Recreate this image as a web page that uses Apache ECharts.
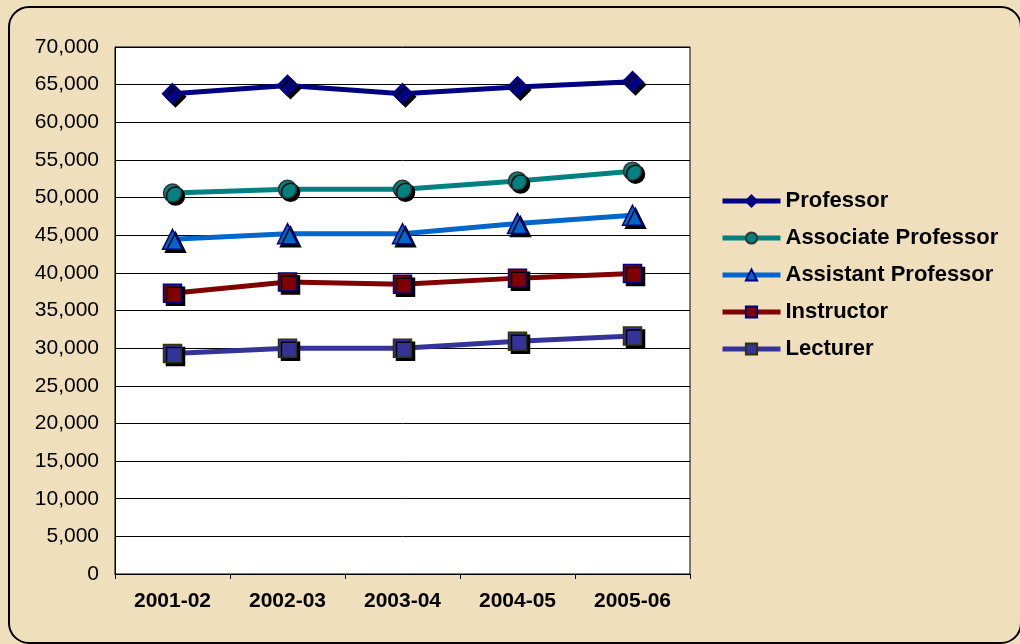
<!DOCTYPE html>
<html>
<head>
<meta charset="utf-8">
<script src="https://cdn.jsdelivr.net/npm/echarts@6/dist/echarts.min.js"></script>
<style>
html,body{margin:0;padding:0;background:#F0DFBC;}
#c{width:1020px;height:644px;}
</style>
</head>
<body>
<div id="c"></div>
<script>
const years = ['2001-02', '2002-03', '2003-04', '2004-05', '2005-06'];
const professor = [63800, 64900, 63800, 64700, 65400];
const associateProfessor = [50600, 51100, 51100, 52200, 53500];
const assistantProfessor = [44450, 45200, 45200, 46550, 47650];
const instructor = [37300, 38800, 38500, 39300, 39900];
const lecturer = [29300, 30000, 30000, 30900, 31600];
const seriesNames = ['Professor', 'Associate Professor', 'Assistant Professor', 'Instructor', 'Lecturer'];

const FONT = "'Liberation Sans', Arial, sans-serif";
const chart = echarts.init(document.getElementById('c'), null, {renderer: 'canvas'});

function mk(name, data, lineColor, fill, border, symbol, size) {
  return {
    name: name,
    type: 'line',
    data: data,
    symbol: symbol,
    symbolSize: size,
    showAllSymbol: true,
    lineStyle: {color: lineColor, width: 5},
    itemStyle: {
      color: fill, borderColor: border, borderWidth: 1.5,
      shadowColor: '#000', shadowBlur: 0, shadowOffsetX: 3, shadowOffsetY: 3
    },
    emphasis: {disabled: true},
    z: 3
  };
}

const option = {
  backgroundColor: '#F0DFBC',
  animation: false,
  graphic: [
    {type: 'rect', shape: {x: 9, y: 7, width: 1012, height: 636, r: 20},
     style: {fill: null, stroke: '#000', lineWidth: 2}, z: 100, silent: true}
  ],
  grid: {left: 115, right: 330, top: 47, bottom: 70, show: true,
         backgroundColor: '#fff', borderColor: '#000', borderWidth: 1},
  legend: {
    orient: 'vertical', left: 720, top: 190, padding: 0,
    itemWidth: 58, itemHeight: 14, itemGap: 15,
    data: seriesNames,
    lineStyle: {width: 5},
    itemStyle: {shadowColor: 'rgba(0,0,0,0)', shadowOffsetX: 0, shadowOffsetY: 0, shadowBlur: 0},
    textStyle: {fontFamily: FONT, fontSize: 22, fontWeight: 'bold', color: '#000', lineHeight: 21}
  },
  xAxis: {
    type: 'category', data: years, boundaryGap: true,
    axisLine: {lineStyle: {color: '#000', width: 1}},
    axisTick: {show: true, length: 5, inside: false, lineStyle: {color: '#000'}},
    axisLabel: {fontFamily: FONT, fontSize: 21, fontWeight: 'bold', color: '#000', margin: 17},
    splitLine: {show: false}
  },
  yAxis: {
    type: 'value', min: 0, max: 70000, interval: 5000,
    axisLine: {show: true, lineStyle: {color: '#000', width: 1}},
    axisTick: {show: false},
    axisLabel: {fontFamily: FONT, fontSize: 21, color: '#000', margin: 16,
      formatter: v => String(v).replace(/\B(?=(\d{3})+(?!\d))/g, ',')},
    splitLine: {show: true, lineStyle: {color: '#000', width: 1}}
  },
  series: [
    mk(seriesNames[0], professor, '#000080', '#000080', '#000080', 'diamond', 20),
    mk(seriesNames[1], associateProfessor, '#008080', '#008080', '#333333', 'circle', 18),
    mk(seriesNames[2], assistantProfessor, '#0066CC', '#0066CC', '#000080', 'triangle', 20),
    mk(seriesNames[3], instructor, '#800000', '#800000', '#000080', 'rect', 18),
    mk(seriesNames[4], lecturer, '#333399', '#333399', '#333300', 'rect', 18)
  ]
};
chart.setOption(option);
</script>
</body>
</html>
